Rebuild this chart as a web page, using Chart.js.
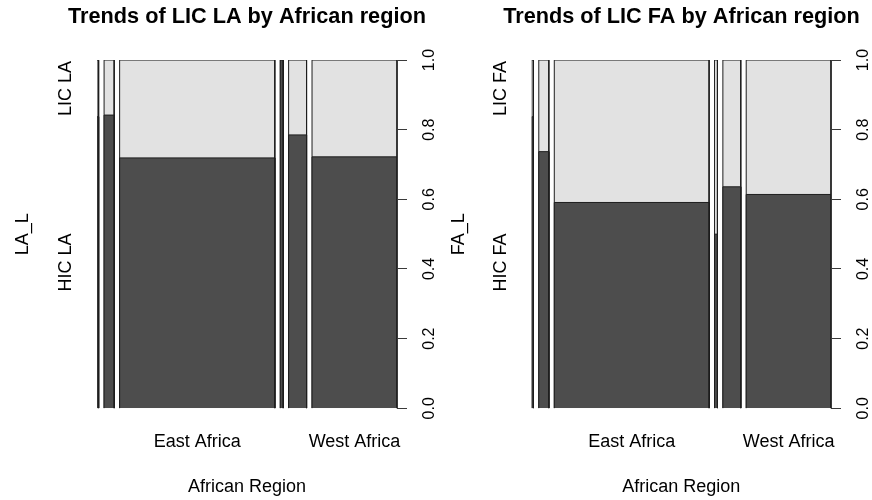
<!DOCTYPE html>
<html>
<head>
<meta charset="utf-8">
<script src="https://cdn.jsdelivr.net/npm/chart.js@4.4.1/dist/chart.umd.min.js"></script>
<style>
  html, body { margin: 0; padding: 0; background: #ffffff; overflow: hidden; }
  #wrap { position: relative; width: 872px; height: 500px; overflow: hidden; }
  .panel { position: absolute; top: 0; height: 500px; }
  .panel canvas { display: block; }
</style>
</head>
<body>
<div id="wrap">
  <div class="panel" id="panelLA"><canvas id="spineLA"></canvas></div>
  <div class="panel" id="panelFA"><canvas id="spineFA"></canvas></div>
</div>
<script>
// African regions in factor order; the narrow ones get no axis label
const regionLabels = ["", "", "East Africa", "", "", "West Africa"];
// share of observations falling in each region (spine widths)
const regionShare = [0.006, 0.037, 0.569, 0.0106, 0.0658, 0.3116];
// proportion of HIC within each region
const hicShareLA = [0.837, 0.842, 0.719, 1.0, 0.785, 0.722];
const hicShareFA = [0.837, 0.737, 0.591, 0.5, 0.636, 0.614];
// level names shown on the left axis (bottom level first)
const levelsLA = ["HIC LA", "LIC LA"];
const levelsFA = ["HIC FA", "LIC FA"];
// right-hand proportion axis
const propTicks = [0, 0.2, 0.4, 0.6, 0.8, 1.0];
// space between neighbouring spines, as a fraction of the unit width
const spineGap = 0.02;

const DARK = "#4D4D4D";
const LIGHT = "#E2E2E2";
const EDGE = "#1e1e1e";
const AXIS = "#3a3a3a";

Chart.defaults.font.family = '"Liberation Sans", Arial, Helvetica, sans-serif';
Chart.defaults.color = "#000";

function spineEdges() {
  const edges = [];
  let acc = 0;
  regionShare.forEach(w => { edges.push([acc, acc + w]); acc += w + spineGap; });
  return edges;
}

// geom: canvas placement on the page and plot-area edges inside the canvas;
// each canvas is as wide as needed for the title to sit centred over its plot
function spineChart(canvasId, panelId, titleText, yTitle, levels, hicShare, geom) {
  const panel = document.getElementById(panelId);
  panel.style.left = geom.canvasLeft + "px";
  panel.style.width = geom.canvasWidth + "px";
  const canvas = document.getElementById(canvasId);
  canvas.width = geom.canvasWidth;
  canvas.height = 500;

  const edges = spineEdges();
  const xMax = 1 + spineGap * (regionShare.length - 1);

  const lineBase = {
    type: "line", borderColor: EDGE, borderWidth: 1, fill: "origin",
    pointRadius: 0, pointHoverRadius: 0, tension: 0, yAxisID: "y", xAxisID: "x"
  };
  // lower (HIC) part of every spine
  const darkSets = edges.map(([a, b], i) => Object.assign({}, lineBase, {
    backgroundColor: DARK,
    data: [{ x: a, y: 0 }, { x: a, y: hicShare[i] }, { x: b, y: hicShare[i] }, { x: b, y: 0 }]
  }));
  // full-height spine; the part left visible above is the LIC share
  const lightSets = edges.map(([a, b]) => Object.assign({}, lineBase, {
    backgroundColor: LIGHT,
    data: [{ x: a, y: 0 }, { x: a, y: 1 }, { x: b, y: 1 }, { x: b, y: 0 }]
  }));

  return new Chart(canvas, {
    type: "line",
    data: { datasets: [...darkSets, ...lightSets] },
    options: {
      responsive: false,
      animation: false,
      devicePixelRatio: 1,
      layout: { padding: 0 },
      plugins: {
        legend: { display: false },
        tooltip: { enabled: false },
        title: {
          display: true, text: titleText,
          font: { size: 21.7, weight: "bold" }, color: "#000",
          padding: { top: 4.5, bottom: 29.5 }
        }
      },
      scales: {
        x: {
          type: "linear", position: "bottom", min: 0, max: xMax, bounds: "data",
          grid: { display: false, drawTicks: false },
          border: { display: false },
          afterBuildTicks: s => {
            s.ticks = edges
              .map(([a, b], i) => ({ value: (a + b) / 2, label: regionLabels[i] }))
              .filter(t => t.label);
          },
          ticks: {
            autoSkip: false, maxRotation: 0, minRotation: 0, padding: 23,
            font: { size: 18 }, color: "#000",
            callback: (v, i, t) => t[i].label
          },
          title: {
            display: true, text: "African Region", font: { size: 18 }, color: "#000",
            padding: { top: 0, bottom: 2.5 }
          },
          afterFit: s => { s.height = 500 - geom.plotBottom; }
        },
        yl: {
          type: "linear", position: "left", min: 0, max: 1,
          grid: { display: false, drawTicks: false },
          border: { display: false },
          afterBuildTicks: s => {
            s.ticks = [
              { value: hicShare[0] / 2, label: levels[0] },
              { value: (1 + hicShare[0]) / 2, label: levels[1] }
            ];
          },
          ticks: {
            autoSkip: false, minRotation: 90, maxRotation: 90, crossAlign: "center",
            padding: 2, font: { size: 18 }, color: "#000",
            callback: (v, i, t) => t[i].label
          },
          title: {
            display: true, text: yTitle, font: { size: 18 }, color: "#000",
            padding: { top: 12, bottom: 0 }
          },
          afterFit: s => { s.width = geom.plotLeft; }
        },
        y: {
          type: "linear", position: "right", min: 0, max: 1,
          afterBuildTicks: s => { s.ticks = propTicks.map(v => ({ value: v })); },
          grid: { display: true, drawOnChartArea: false, drawTicks: true, tickLength: 10, color: AXIS, tickWidth: 1 },
          border: { display: true, color: AXIS, width: 1 },
          ticks: {
            autoSkip: false, minRotation: 90, maxRotation: 90, crossAlign: "center",
            padding: 11, font: { size: 16 }, color: "#000",
            callback: v => v.toFixed(1)
          },
          afterFit: s => { s.width = geom.canvasWidth - geom.plotRight; }
        }
      }
    }
  });
}

spineChart("spineLA", "panelLA", "Trends of LIC LA by African region", "LA_L", levelsLA, hicShareLA,
  { canvasLeft: 0, canvasWidth: 494, plotLeft: 97, plotRight: 397, plotBottom: 408.3 });
spineChart("spineFA", "panelFA", "Trends of LIC FA by African region", "FA_L", levelsFA, hicShareFA,
  { canvasLeft: 436, canvasWidth: 491, plotLeft: 95.7, plotRight: 395, plotBottom: 408.3 });
</script>
</body>
</html>
